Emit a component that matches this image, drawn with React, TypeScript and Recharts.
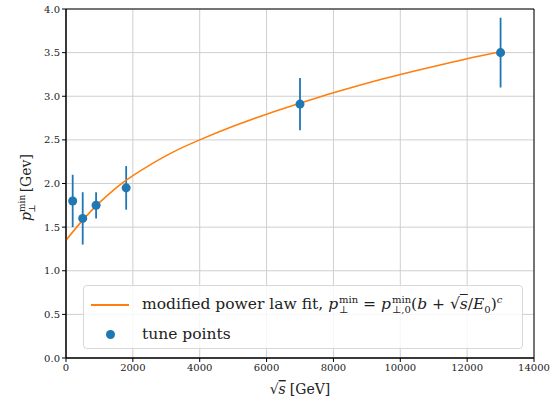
import React from 'react';
import {
  ComposedChart,
  Line,
  Scatter,
  ErrorBar,
  XAxis,
  YAxis,
  CartesianGrid,
  ReferenceArea,
  Legend,
} from 'recharts';

// tune points: sqrt(s) [GeV], p_T^min [GeV], error
const tuneX = [200, 500, 900, 1800, 7000, 13000];
const tuneY = [1.8, 1.6, 1.75, 1.95, 2.91, 3.5];
const tuneErr = [0.3, 0.3, 0.15, 0.25, 0.3, 0.4];

// fit curve
const fitX = [0, 500, 1000, 1500, 2000, 3000, 4000, 5000, 6000, 7000, 8000, 9000, 10000, 11000, 12000, 13000];
const fitY = [1.35, 1.58, 1.78, 1.95, 2.09, 2.32, 2.5, 2.655, 2.795, 2.92, 3.04, 3.15, 3.25, 3.34, 3.43, 3.51];

const xTicks = [0, 2000, 4000, 6000, 8000, 10000, 12000, 14000];
const yTicks = [0, 0.5, 1, 1.5, 2, 2.5, 3, 3.5, 4];

const BLUE = '#1f77b4';
const ORANGE = '#ff7f0e';
const FONT = '"DejaVu Serif", serif';

const tunePoints = tuneX.map((x, i) => ({ x, y: tuneY[i], err: tuneErr[i] }));
const fitPoints = fitX.map((x, i) => ({ x, y: fitY[i] }));

const Stack = ({ sup, sub }: { sup: string; sub: string }) => (
  <span style={{ display: 'inline-flex', flexDirection: 'column', fontSize: 10, lineHeight: '10px', verticalAlign: 'middle', marginLeft: 1 }}>
    <span>{sup}</span>
    <span>{sub}</span>
  </span>
);

const LegendBox = () => (
  <div
    style={{
      boxSizing: 'border-box',
      width: 440,
      height: 64,
      border: '1px solid #d8d8d8',
      borderRadius: 4,
      background: 'rgba(255,255,255,0.8)',
      fontFamily: FONT,
      fontSize: 15.5,
      color: '#222',
      padding: '3px 0 0 7px',
    }}
  >
    <div style={{ display: 'flex', alignItems: 'center', height: 31 }}>
      <span style={{ display: 'inline-block', width: 38, height: 2, background: ORANGE, marginRight: 13 }} />
      <span style={{ whiteSpace: 'nowrap' }}>
        modified power law fit, <i>p</i>
        <Stack sup="min" sub="⊥" /> = <i>p</i>
        <Stack sup="min" sub="⊥,0" />(<i>b</i> + √<span style={{ textDecoration: 'overline' }}><i>s</i></span>/<i>E</i>
        <sub style={{ fontSize: 10 }}>0</sub>)<sup style={{ fontSize: 10 }}><i>c</i></sup>
      </span>
    </div>
    <div style={{ display: 'flex', alignItems: 'center', height: 28 }}>
      <span style={{ display: 'inline-block', width: 38, marginRight: 13, textAlign: 'center' }}>
        <span style={{ display: 'inline-block', width: 9, height: 9, borderRadius: 5, background: BLUE }} />
      </span>
      <span>tune points</span>
    </div>
  </div>
);

const YLabel = () => (
  <text transform="translate(31,221) rotate(-90)" x={0} y={0} fontFamily={FONT} fontSize={14} fill="#222">
    <tspan fontStyle="italic">p</tspan>
    <tspan fontSize={9} dy={-6}>min</tspan>
    <tspan fontSize={9} dx={-18} dy={10}>⊥</tspan>
    <tspan dx={12} dy={-4}>[Gev]</tspan>
  </text>
);

const XLabel = () => (
  <text x={300} y={394} textAnchor="middle" fontFamily={FONT} fontSize={14} fill="#222">
    <tspan>√</tspan>
    <tspan fontStyle="italic" textDecoration="overline">s</tspan>
    <tspan dx={4}>[GeV]</tspan>
  </text>
);

export default function App() {
  const tick = { fontFamily: FONT, fontSize: 10, fill: '#222' };
  return (
    <div style={{ position: 'absolute', left: 0, top: 0 }}>
      <ComposedChart width={553} height={401} margin={{ top: 9, right: 19, bottom: 0, left: 0 }}>
        <CartesianGrid stroke="#cfcfcf" strokeWidth={1} />
        <XAxis
          type="number"
          dataKey="x"
          domain={[0, 14000]}
          ticks={xTicks}
          height={43}
          tick={tick}
          tickSize={4}
          tickMargin={2}
          stroke="#000"
          allowDataOverflow
        />
        <YAxis
          type="number"
          dataKey="y"
          domain={[0, 4]}
          ticks={yTicks}
          width={66}
          tick={tick}
          tickSize={4}
          tickMargin={2}
          tickFormatter={(v: number) => v.toFixed(1)}
          stroke="#000"
          allowDataOverflow
        />
        <ReferenceArea x1={0} x2={14000} y1={0} y2={4} fill="none" stroke="#000" strokeWidth={1} ifOverflow="visible" />
        <Scatter data={tunePoints} fill={BLUE} isAnimationActive={false} legendType="circle" name="tune points">
          <ErrorBar dataKey="err" direction="y" width={0} stroke={BLUE} strokeWidth={1.8} />
        </Scatter>
        <Line
          data={fitPoints}
          dataKey="y"
          type="natural"
          stroke={ORANGE}
          strokeWidth={1.6}
          dot={false}
          activeDot={false}
          isAnimationActive={false}
        />
        <Legend
          layout="horizontal"
          verticalAlign="middle"
          align="center"
          wrapperStyle={{ left: 83, top: 285, width: 440, height: 64 }}
          content={() => <LegendBox />}
        />
        <YLabel />
        <XLabel />
      </ComposedChart>
    </div>
  );
}
